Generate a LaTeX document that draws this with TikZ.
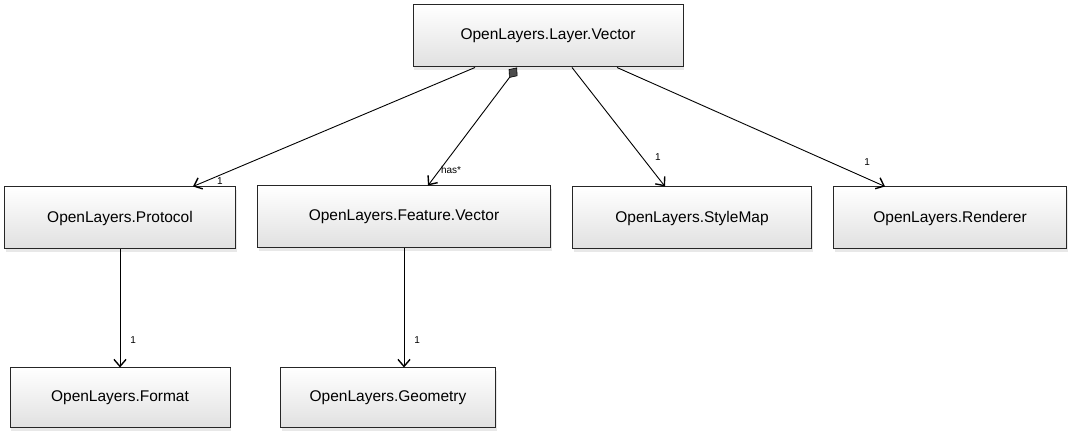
\documentclass[tikz,border=0pt]{standalone}
\usepackage{fontspec}
\setmainfont{Liberation Sans}
\usetikzlibrary{arrows.meta,shadows}

\begin{document}
\begin{tikzpicture}[x=1pt,y=-1pt]
 \tikzstyle{classbox}=[draw=black!85,line width=1pt,top color=white,bottom color=black!12,
   drop shadow={opacity=0.18,shadow xshift=1pt,shadow yshift=-3pt},
   font=\fontsize{15.5}{18}\selectfont,inner sep=0pt,minimum height=62pt]
 \tikzstyle{assoc}=[draw,line width=0.9pt,-{Straight Barb[length=7pt,width=12pt,line width=1.4pt]}]
 \tikzstyle{mult}=[font=\fontsize{10}{11}\selectfont,inner sep=1pt]
 \useasboundingbox (0,0) rectangle (1077,435);
 % classes
 \node[classbox,minimum width=270pt] (layer)    at (548,36)  {OpenLayers.Layer.Vector};
 \node[classbox,minimum width=231pt] (protocol) at (120,218)  {OpenLayers.Protocol};
 \node[classbox,minimum width=293pt] (feature)  at (404,217)  {OpenLayers.Feature.Vector};
 \node[classbox,minimum width=239pt] (stylemap) at (692,218)  {OpenLayers.StyleMap};
 \node[classbox,minimum width=233pt] (renderer) at (950,218)  {OpenLayers.Renderer};
 \node[classbox,minimum width=220pt,minimum height=60pt] (format)   at (120,398) {OpenLayers.Format};
 \node[classbox,minimum width=215pt,minimum height=60pt] (geometry) at (388,398) {OpenLayers.Geometry};
 % associations
 \path[assoc]
 ([xshift=-73pt]layer.south) -- ([xshift=73pt]protocol.north)
   node[mult,pos=1,xshift=27pt,yshift=5pt] {1};
 \path[assoc,{Diamond[fill=black!70,length=13pt,width=11pt,line width=0.6pt]}-{Straight Barb[length=7pt,width=12pt,line width=1.4pt]}]
 ([xshift=-31pt]layer.south) -- ([xshift=24pt]feature.north)
   node[mult,pos=0.87,anchor=west] {has*};
 \path[assoc]
 ([xshift=24pt]layer.south) -- ([xshift=-27pt]stylemap.north)
   node[mult,pos=0.75,anchor=west,xshift=12pt] {1};
 \path[assoc]
 ([xshift=69pt]layer.south) -- ([xshift=-65pt]renderer.north)
   node[mult,pos=0.9,anchor=south,xshift=9pt,yshift=8pt] {1};
 \path[assoc]
 (protocol.south) -- (format.north)
   node[mult,pos=0.77,anchor=west,xshift=9pt] {1};
 \path[assoc]
 (feature.south) -- ([xshift=16pt]geometry.north)
   node[mult,pos=0.77,anchor=west,xshift=9pt] {1};
\end{tikzpicture}
\end{document}
